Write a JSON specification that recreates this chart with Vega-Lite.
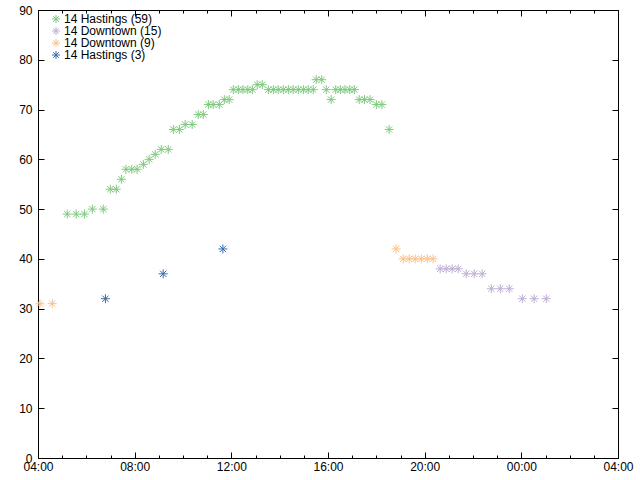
{
  "$schema": "https://vega.github.io/schema/vega-lite/v6.json",
  "width": 580,
  "height": 448,
  "autosize": {"type": "none"},
  "padding": {"left": 38, "top": 10, "right": 22, "bottom": 22},
  "background": "white",
  "config": {
    "view": {"stroke": "black", "strokeWidth": 1},
    "font": "Liberation Sans",
    "axis": {
      "grid": false,
      "domainColor": "black",
      "tickColor": "black",
      "labelColor": "black",
      "labelFont": "Liberation Sans",
      "labelFontSize": 12,
      "title": null
    },
    "legend": {"rowPadding": -3}
  },
  "data": {
    "values": [
      {"t": 5.21, "v": 49, "s": "14 Hastings (59)"},
      {"t": 5.58, "v": 49, "s": "14 Hastings (59)"},
      {"t": 5.92, "v": 49, "s": "14 Hastings (59)"},
      {"t": 6.25, "v": 50, "s": "14 Hastings (59)"},
      {"t": 6.70, "v": 50, "s": "14 Hastings (59)"},
      {"t": 6.99, "v": 54, "s": "14 Hastings (59)"},
      {"t": 7.24, "v": 54, "s": "14 Hastings (59)"},
      {"t": 7.45, "v": 56, "s": "14 Hastings (59)"},
      {"t": 7.64, "v": 58, "s": "14 Hastings (59)"},
      {"t": 7.88, "v": 58, "s": "14 Hastings (59)"},
      {"t": 8.10, "v": 58, "s": "14 Hastings (59)"},
      {"t": 8.36, "v": 59, "s": "14 Hastings (59)"},
      {"t": 8.60, "v": 60, "s": "14 Hastings (59)"},
      {"t": 8.85, "v": 61, "s": "14 Hastings (59)"},
      {"t": 9.10, "v": 62, "s": "14 Hastings (59)"},
      {"t": 9.39, "v": 62, "s": "14 Hastings (59)"},
      {"t": 9.60, "v": 66, "s": "14 Hastings (59)"},
      {"t": 9.85, "v": 66, "s": "14 Hastings (59)"},
      {"t": 10.09, "v": 67, "s": "14 Hastings (59)"},
      {"t": 10.38, "v": 67, "s": "14 Hastings (59)"},
      {"t": 10.63, "v": 69, "s": "14 Hastings (59)"},
      {"t": 10.84, "v": 69, "s": "14 Hastings (59)"},
      {"t": 11.05, "v": 71, "s": "14 Hastings (59)"},
      {"t": 11.25, "v": 71, "s": "14 Hastings (59)"},
      {"t": 11.50, "v": 71, "s": "14 Hastings (59)"},
      {"t": 11.71, "v": 72, "s": "14 Hastings (59)"},
      {"t": 11.91, "v": 72, "s": "14 Hastings (59)"},
      {"t": 12.08, "v": 74, "s": "14 Hastings (59)"},
      {"t": 12.29, "v": 74, "s": "14 Hastings (59)"},
      {"t": 12.48, "v": 74, "s": "14 Hastings (59)"},
      {"t": 12.68, "v": 74, "s": "14 Hastings (59)"},
      {"t": 12.87, "v": 74, "s": "14 Hastings (59)"},
      {"t": 13.07, "v": 75, "s": "14 Hastings (59)"},
      {"t": 13.28, "v": 75, "s": "14 Hastings (59)"},
      {"t": 13.53, "v": 74, "s": "14 Hastings (59)"},
      {"t": 13.74, "v": 74, "s": "14 Hastings (59)"},
      {"t": 13.94, "v": 74, "s": "14 Hastings (59)"},
      {"t": 14.15, "v": 74, "s": "14 Hastings (59)"},
      {"t": 14.36, "v": 74, "s": "14 Hastings (59)"},
      {"t": 14.56, "v": 74, "s": "14 Hastings (59)"},
      {"t": 14.77, "v": 74, "s": "14 Hastings (59)"},
      {"t": 14.98, "v": 74, "s": "14 Hastings (59)"},
      {"t": 15.18, "v": 74, "s": "14 Hastings (59)"},
      {"t": 15.39, "v": 74, "s": "14 Hastings (59)"},
      {"t": 15.51, "v": 76, "s": "14 Hastings (59)"},
      {"t": 15.74, "v": 76, "s": "14 Hastings (59)"},
      {"t": 15.93, "v": 74, "s": "14 Hastings (59)"},
      {"t": 16.13, "v": 72, "s": "14 Hastings (59)"},
      {"t": 16.32, "v": 74, "s": "14 Hastings (59)"},
      {"t": 16.51, "v": 74, "s": "14 Hastings (59)"},
      {"t": 16.70, "v": 74, "s": "14 Hastings (59)"},
      {"t": 16.90, "v": 74, "s": "14 Hastings (59)"},
      {"t": 17.09, "v": 74, "s": "14 Hastings (59)"},
      {"t": 17.29, "v": 72, "s": "14 Hastings (59)"},
      {"t": 17.51, "v": 72, "s": "14 Hastings (59)"},
      {"t": 17.74, "v": 72, "s": "14 Hastings (59)"},
      {"t": 18.00, "v": 71, "s": "14 Hastings (59)"},
      {"t": 18.23, "v": 71, "s": "14 Hastings (59)"},
      {"t": 18.53, "v": 66, "s": "14 Hastings (59)"},
      {"t": 20.64, "v": 38, "s": "14 Downtown (15)"},
      {"t": 20.89, "v": 38, "s": "14 Downtown (15)"},
      {"t": 21.14, "v": 38, "s": "14 Downtown (15)"},
      {"t": 21.39, "v": 38, "s": "14 Downtown (15)"},
      {"t": 21.72, "v": 37, "s": "14 Downtown (15)"},
      {"t": 22.05, "v": 37, "s": "14 Downtown (15)"},
      {"t": 22.38, "v": 37, "s": "14 Downtown (15)"},
      {"t": 22.76, "v": 34, "s": "14 Downtown (15)"},
      {"t": 23.13, "v": 34, "s": "14 Downtown (15)"},
      {"t": 23.50, "v": 34, "s": "14 Downtown (15)"},
      {"t": 24.04, "v": 32, "s": "14 Downtown (15)"},
      {"t": 24.53, "v": 32, "s": "14 Downtown (15)"},
      {"t": 25.03, "v": 32, "s": "14 Downtown (15)"},
      {"t": 4.08, "v": 31, "s": "14 Downtown (9)"},
      {"t": 4.59, "v": 31, "s": "14 Downtown (9)"},
      {"t": 18.82, "v": 42, "s": "14 Downtown (9)"},
      {"t": 19.11, "v": 40, "s": "14 Downtown (9)"},
      {"t": 19.36, "v": 40, "s": "14 Downtown (9)"},
      {"t": 19.61, "v": 40, "s": "14 Downtown (9)"},
      {"t": 19.86, "v": 40, "s": "14 Downtown (9)"},
      {"t": 20.11, "v": 40, "s": "14 Downtown (9)"},
      {"t": 20.35, "v": 40, "s": "14 Downtown (9)"},
      {"t": 6.79, "v": 32, "s": "14 Hastings (3)"},
      {"t": 9.18, "v": 37, "s": "14 Hastings (3)"},
      {"t": 11.65, "v": 42, "s": "14 Hastings (3)"}
    ]
  },
  "layer": [
    {
      "mark": {
        "type": "point",
        "shape": "M-1,0L1,0M0,-1L0,1M-0.7,-0.7L0.7,0.7M-0.7,0.7L0.7,-0.7",
        "filled": false,
        "size": 81,
        "strokeWidth": 1,
        "opacity": 1
      },
      "encoding": {
        "x": {
          "field": "t",
          "type": "quantitative",
          "scale": {"domain": [4, 28], "nice": false, "zero": false},
          "axis": {
            "orient": "bottom",
            "values": [4,5,6,7,8,9,10,11,12,13,14,15,16,17,18,19,20,21,22,23,24,25,26,27,28],
            "labelExpr": "datum.value % 4 === 0 ? (datum.value % 24 < 10 ? '0' : '') + (datum.value % 24) + ':00' : ''",
            "tickSize": {"condition": {"test": "datum.value % 4 === 0", "value": -6}, "value": -3},
            "labelPadding": 9,
            "labelOverlap": false,
            "labelFlush": false
          }
        },
        "y": {
          "field": "v",
          "type": "quantitative",
          "scale": {"domain": [0, 90], "nice": false},
          "axis": {
            "orient": "left",
            "values": [0,10,20,30,40,50,60,70,80,90],
            "tickSize": -6,
            "labelPadding": 12
          }
        },
        "color": {
          "field": "s",
          "type": "nominal",
          "scale": {
            "domain": ["14 Hastings (59)", "14 Downtown (15)", "14 Downtown (9)", "14 Hastings (3)"],
            "range": ["#7fc97f", "#beaed4", "#fdc086", "#386cb0"]
          },
          "legend": {
            "title": null,
            "orient": "none",
            "legendX": 12,
            "legendY": 3,
            "symbolType": "M-1,0L1,0M0,-1L0,1M-0.7,-0.7L0.7,0.7M-0.7,0.7L0.7,-0.7",
            "symbolSize": 64,
            "symbolStrokeWidth": 1,
            "symbolFillColor": "transparent",
            "labelFont": "Liberation Sans",
            "labelFontSize": 12,
            "labelColor": "black",
            "labelOffset": 2,
            "rowPadding": -3,
            "padding": 0
          }
        }
      }
    },
    {
      "mark": {"type": "point", "opacity": 0},
      "encoding": {
        "x": {
          "field": "t",
          "type": "quantitative",
          "axis": {
            "orient": "top",
            "values": [4,5,6,7,8,9,10,11,12,13,14,15,16,17,18,19,20,21,22,23,24,25,26,27,28],
            "labels": false,
            "tickSize": {"condition": {"test": "datum.value % 4 === 0", "value": -6}, "value": -3}
          }
        },
        "y": {
          "field": "v",
          "type": "quantitative",
          "axis": {
            "orient": "right",
            "values": [0,10,20,30,40,50,60,70,80,90],
            "labels": false,
            "tickSize": -6
          }
        }
      }
    }
  ],
  "resolve": {"axis": {"x": "independent", "y": "independent"}}
}
